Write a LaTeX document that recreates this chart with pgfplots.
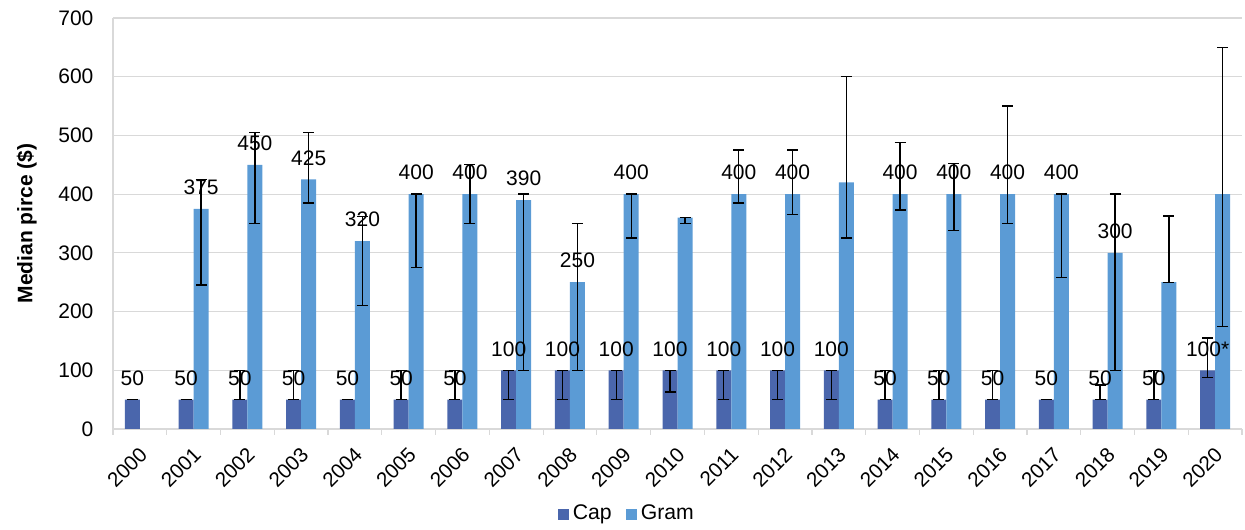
\documentclass[border=0pt]{standalone}
\usepackage{pgfplots}
\pgfplotsset{compat=1.18}
\usepackage{fontspec}
\setmainfont{Liberation Sans}
\definecolor{capc}{HTML}{4A66AC}
\definecolor{gramc}{HTML}{5B9BD5}
\definecolor{gridc}{HTML}{D9D9D9}

% Cap: median, error plus, error minus, label
\pgfplotstableread{
x y ep em lbl
0 50 0 0 50
1 50 0 0 50
2 50 50 0 50
3 50 50 0 50
4 50 0 0 50
5 50 50 0 50
6 50 50 0 50
7 100 0 50 100
8 100 0 50 100
9 100 0 50 100
10 100 0 37 100
11 100 0 50 100
12 100 0 50 100
13 100 0 50 100
14 50 50 0 50
15 50 50 0 50
16 50 50 0 50
17 50 0 0 50
18 50 25 0 50
19 50 50 0 50
20 100 55 12 100*
}\capdata

% Gram
\pgfplotstableread{
x y ep em lbl
1 375 50 130 375
2 450 55 100 450
3 425 80 40 425
4 320 42 110 320
5 400 0 125 400
6 400 50 50 400
7 390 10 290 390
8 250 100 150 250
9 400 0 75 400
10 360 0 10 {}
11 400 75 15 400
12 400 75 35 400
13 420 180 95 {}
14 400 88 27 400
15 400 52 62 400
16 400 150 50 400
17 400 0 142 400
18 300 100 200 300
19 250 113 0 {}
20 400 250 225 {}
}\gramdata

\begin{document}
\begin{tikzpicture}
\begin{axis}[
    name=ax,
    scale only axis,
    width=564.5pt, height=205.5pt,
    ybar=0pt, bar width=7.5pt,
    ymin=0, ymax=700,
    ytick={0,100,...,700},
    ymajorgrids,
    grid style={gridc, line width=0.6pt},
    xmin=-0.5, xmax=20.5,
    xtick={0,...,20},
    xticklabels={2000,2001,2002,2003,2004,2005,2006,2007,2008,2009,2010,2011,2012,2013,2014,2015,2016,2017,2018,2019,2020},
    major x tick style={draw=none},
    minor xtick={-0.5,0.5,...,20.5},
    minor x tick style={gridc, line width=0.6pt},
    minor tick length=3pt,
    tick align=outside,
    ytick style={draw=none},
    axis x line*=bottom,
    axis y line*=left,
    axis line style={gridc, line width=0.6pt},
    x tick label style={rotate=45, anchor=east, font=\fontsize{10.3}{11}\selectfont, yshift=-6pt, xshift=0pt},
    y tick label style={font=\fontsize{10.5}{11}\selectfont, xshift=-2pt},
    /pgf/number format/assume math mode=true,
    ylabel={\textbf{Median pirce (\$)}},
    ylabel style={font=\fontsize{10.5}{11}\selectfont, yshift=4pt},
    nodes near coords,
    point meta=explicit symbolic,
    every node near coord/.append style={font=\fontsize{10.5}{11}\selectfont, black, yshift=3.5pt},
    legend style={at={(0.456,-0.207)}, anchor=center, legend columns=-1, draw=none,
        font=\fontsize{10.6}{11}\selectfont,
        /tikz/every even column/.append style={column sep=5pt}},
    legend image code/.code={\fill[#1] (0pt,-2.75pt) rectangle (5.5pt,2.75pt);},
    error bars/error bar style={black, line width=0.7pt},
    error bars/error mark options={black, line width=0.7pt, mark size=2.75pt, rotate=90},
]
\addplot[fill=capc, draw=none, error bars/.cd, y dir=both, y explicit]
    table[x=x, y=y, y error plus=ep, y error minus=em, meta=lbl] {\capdata};
\addlegendentry{Cap}
\addplot[fill=gramc, draw=none, error bars/.cd, y dir=both, y explicit]
    table[x=x, y=y, y error plus=ep, y error minus=em, meta=lbl] {\gramdata};
\addlegendentry{Gram}
\end{axis}
\pgfresetboundingbox
\path ([shift={(-56.5pt,-50pt)}]ax.south west) rectangle ([shift={(1.5pt,9pt)}]ax.north east);
\end{tikzpicture}
\end{document}
